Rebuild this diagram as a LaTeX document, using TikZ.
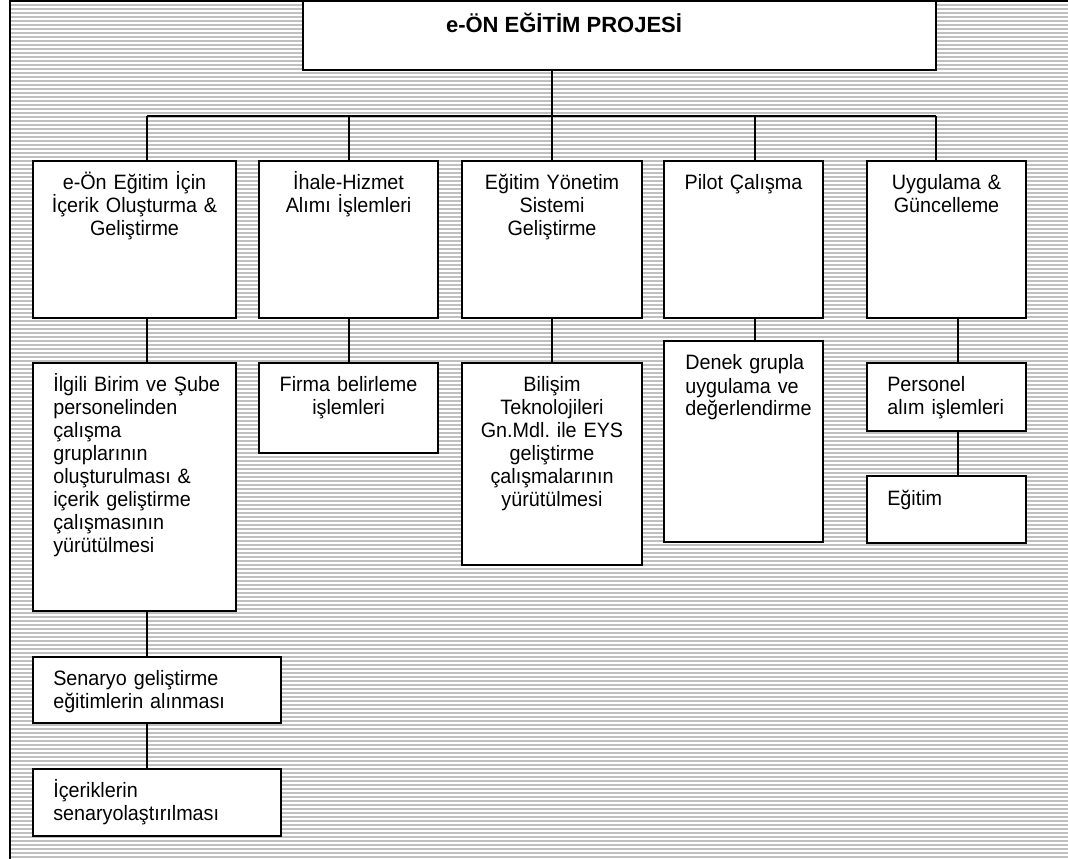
\documentclass[tikz,border=0pt]{standalone}
\usepackage{fontspec}
\setmainfont{Liberation Sans}
\newfontfamily\bodyfont{Liberation Sans}[FakeStretch=0.95]
\usetikzlibrary{fit,calc}
\definecolor{hatchgray}{HTML}{C0C0C0}
\frenchspacing
\begin{document}
\begin{tikzpicture}[x=0.75pt,y=-0.75pt,
  box/.style={draw=black, fill=white, line width=1.5pt, inner sep=0pt, outer sep=0pt},
  link/.style={draw=black, line width=1.5pt},
  lbl/.style={inner sep=0pt, font=\bodyfont\fontsize{15.6}{17.25}\selectfont},
  ctext/.style={lbl, anchor=base, align=center, text width=170pt},
  ltext/.style={lbl, anchor=base west, align=left, text width=180pt},
  ttext/.style={inner sep=0pt, anchor=base, font=\fontsize{16.5}{20}\selectfont\bfseries},
  ]
\useasboundingbox (0,0) rectangle (1068,859);

% hatched background
\fill[hatchgray] (9,1) rectangle (1068,859);
\foreach \yy in {3,7,...,859} \draw[white, line width=0.8pt] (9,\yy) -- (1068,\yy);
\draw[line width=1.5pt] (10,860) -- (10,1) -- (1070,1);

% junction points on the bus
\coordinate (j1) at (147,116);
\coordinate (j2) at (349,116);
\coordinate (j3) at (552,116);
\coordinate (j4) at (755,116);
\coordinate (j5) at (936,116);
\coordinate (k5) at (958,400);

% boxes
\node[box, fit={(303,1) (936,70)}] (top) {};
\node[box, fit={(33,161) (236,318)}] (b1) {};
\node[box, fit={(259,161) (438,318)}] (b2) {};
\node[box, fit={(462,161) (642,318)}] (b3) {};
\node[box, fit={(664,161) (823,318)}] (b4) {};
\node[box, fit={(867,161) (1026,318)}] (b5) {};
\node[box, fit={(33,363) (236,611)}] (c1) {};
\node[box, fit={(259,363) (438,453)}] (c2) {};
\node[box, fit={(462,363) (642,565)}] (c3) {};
\node[box, fit={(664,341) (823,542)}] (c4) {};
\node[box, fit={(867,363) (1026,431)}] (c5) {};
\node[box, fit={(867,476) (1026,543)}] (d5) {};
\node[box, fit={(33,657) (281,723)}] (d1) {};
\node[box, fit={(33,769) (281,836)}] (e1) {};

% connectors
\draw[link] (top.south -| j3) -- (j3);
\draw[link] (j1) -- (j5);
\draw[link] (j1) -- (j1 |- b1.north);
\draw[link] (j2) -- (j2 |- b2.north);
\draw[link] (j3) -- (j3 |- b3.north);
\draw[link] (j4) -- (j4 |- b4.north);
\draw[link] (j5) -- (j5 |- b5.north);
\draw[link] (b1.south -| j1) -- (c1.north -| j1);
\draw[link] (c1.south -| j1) -- (d1.north -| j1);
\draw[link] (d1.south -| j1) -- (e1.north -| j1);
\draw[link] (b2.south -| j2) -- (c2.north -| j2);
\draw[link] (b3.south -| j3) -- (c3.north -| j3);
\draw[link] (b4.south -| j4) -- (c4.north -| j4);
\draw[link] (b5.south -| k5) -- (c5.north -| k5);
\draw[link] (c5.south -| k5) -- (d5.north -| k5);

% texts
\node[ttext] (topt) at (564,33) {e-ÖN EĞİTİM PROJESİ};
\node[ctext] (b1t) at (134.5,190) {e-Ön Eğitim İçin\\İçerik Oluşturma \&\\Geliştirme};
\node[ctext] (b2t) at (348.5,190) {İhale-Hizmet\\Alımı İşlemleri};
\node[ctext] (b3t) at (552,190) {Eğitim Yönetim\\Sistemi\\Geliştirme};
\node[ctext] (b4t) at (743.5,190) {Pilot Çalışma};
\node[ctext] (b5t) at (946.5,190) {Uygulama \&\\Güncelleme};
\node[ltext] (c1t) at (53,392) {İlgili Birim ve Şube\\personelinden\\çalışma\\gruplarının\\oluşturulması \&\\içerik geliştirme\\çalışmasının\\yürütülmesi};
\node[ctext] (c2t) at (348.5,392) {Firma belirleme\\işlemleri};
\node[ctext] (c3t) at (552,392) {Bilişim\\Teknolojileri\\Gn.Mdl. ile EYS\\geliştirme\\çalışmalarının\\yürütülmesi};
\node[ltext] (c4t) at (685,370) {Denek grupla\\uygulama ve\\değerlendirme};
\node[ltext] (c5t) at (887,392) {Personel\\alım işlemleri};
\node[ltext] (d5t) at (887,505) {Eğitim};
\node[ltext] (d1t) at (53,685) {Senaryo geliştirme\\eğitimlerin alınması};
\node[ltext] (e1t) at (53,797) {İçeriklerin\\senaryolaştırılması};
\end{tikzpicture}
\end{document}
